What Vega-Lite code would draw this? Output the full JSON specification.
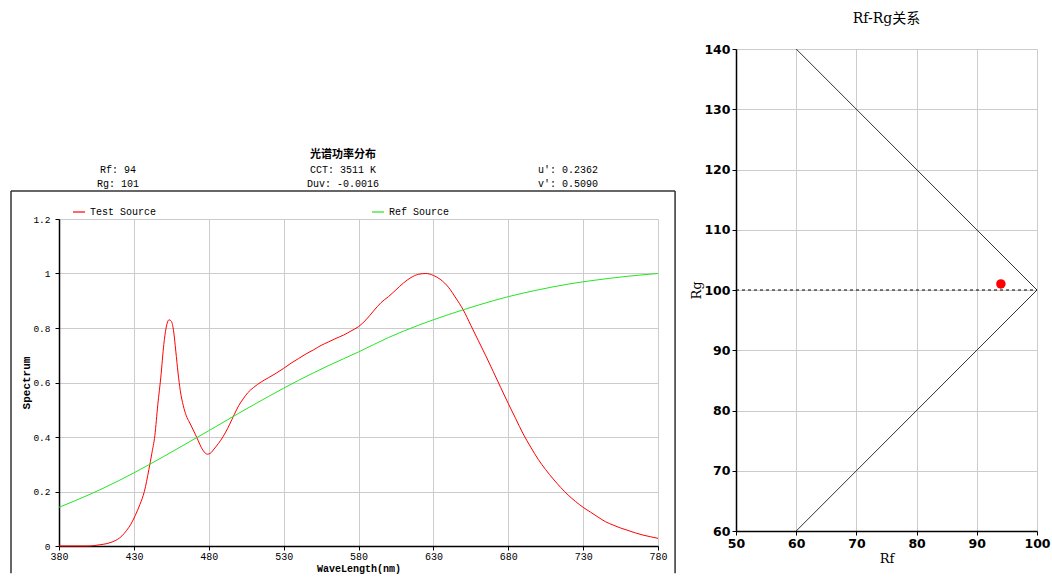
{
  "$schema": "https://vega.github.io/schema/vega-lite/v6.json",
  "padding": {"left": 10, "top": 12, "right": 0, "bottom": 0},
  "background": "#ffffff",
  "config": {
    "view": {"stroke": null},
    "axis": {
      "domainColor": "#000000",
      "domainWidth": 1.5,
      "tickColor": "#000000",
      "tickSize": 4,
      "gridColor": "#cccccc",
      "gridWidth": 1,
      "labelColor": "#000000",
      "titleColor": "#000000",
      "labelFlush": false
    }
  },
  "datasets": {
    "spectrum": [
      {"wl": 380, "v": 0, "src": "Test Source"},
      {"wl": 390, "v": 0, "src": "Test Source"},
      {"wl": 400, "v": 0, "src": "Test Source"},
      {"wl": 404, "v": 0.002, "src": "Test Source"},
      {"wl": 408, "v": 0.005, "src": "Test Source"},
      {"wl": 412, "v": 0.009, "src": "Test Source"},
      {"wl": 416, "v": 0.016, "src": "Test Source"},
      {"wl": 419, "v": 0.024, "src": "Test Source"},
      {"wl": 422, "v": 0.037, "src": "Test Source"},
      {"wl": 425, "v": 0.056, "src": "Test Source"},
      {"wl": 428, "v": 0.08, "src": "Test Source"},
      {"wl": 431, "v": 0.113, "src": "Test Source"},
      {"wl": 434, "v": 0.152, "src": "Test Source"},
      {"wl": 437, "v": 0.2, "src": "Test Source"},
      {"wl": 440, "v": 0.28, "src": "Test Source"},
      {"wl": 442, "v": 0.34, "src": "Test Source"},
      {"wl": 444, "v": 0.405, "src": "Test Source"},
      {"wl": 446, "v": 0.52, "src": "Test Source"},
      {"wl": 448, "v": 0.62, "src": "Test Source"},
      {"wl": 450, "v": 0.74, "src": "Test Source"},
      {"wl": 451.5, "v": 0.8, "src": "Test Source"},
      {"wl": 453.5, "v": 0.83, "src": "Test Source"},
      {"wl": 455, "v": 0.825, "src": "Test Source"},
      {"wl": 456.5, "v": 0.79, "src": "Test Source"},
      {"wl": 458, "v": 0.715, "src": "Test Source"},
      {"wl": 459.5, "v": 0.635, "src": "Test Source"},
      {"wl": 461, "v": 0.57, "src": "Test Source"},
      {"wl": 463, "v": 0.515, "src": "Test Source"},
      {"wl": 465, "v": 0.478, "src": "Test Source"},
      {"wl": 467, "v": 0.455, "src": "Test Source"},
      {"wl": 469, "v": 0.433, "src": "Test Source"},
      {"wl": 471, "v": 0.41, "src": "Test Source"},
      {"wl": 473, "v": 0.386, "src": "Test Source"},
      {"wl": 475, "v": 0.362, "src": "Test Source"},
      {"wl": 477, "v": 0.345, "src": "Test Source"},
      {"wl": 479, "v": 0.337, "src": "Test Source"},
      {"wl": 481, "v": 0.34, "src": "Test Source"},
      {"wl": 483, "v": 0.352, "src": "Test Source"},
      {"wl": 485, "v": 0.366, "src": "Test Source"},
      {"wl": 488, "v": 0.388, "src": "Test Source"},
      {"wl": 491, "v": 0.415, "src": "Test Source"},
      {"wl": 494, "v": 0.447, "src": "Test Source"},
      {"wl": 497, "v": 0.482, "src": "Test Source"},
      {"wl": 500, "v": 0.515, "src": "Test Source"},
      {"wl": 503, "v": 0.54, "src": "Test Source"},
      {"wl": 506, "v": 0.562, "src": "Test Source"},
      {"wl": 510, "v": 0.582, "src": "Test Source"},
      {"wl": 515, "v": 0.602, "src": "Test Source"},
      {"wl": 520, "v": 0.618, "src": "Test Source"},
      {"wl": 525, "v": 0.634, "src": "Test Source"},
      {"wl": 530, "v": 0.652, "src": "Test Source"},
      {"wl": 535, "v": 0.671, "src": "Test Source"},
      {"wl": 540, "v": 0.688, "src": "Test Source"},
      {"wl": 545, "v": 0.705, "src": "Test Source"},
      {"wl": 550, "v": 0.72, "src": "Test Source"},
      {"wl": 555, "v": 0.736, "src": "Test Source"},
      {"wl": 560, "v": 0.749, "src": "Test Source"},
      {"wl": 565, "v": 0.762, "src": "Test Source"},
      {"wl": 570, "v": 0.774, "src": "Test Source"},
      {"wl": 575, "v": 0.789, "src": "Test Source"},
      {"wl": 580, "v": 0.805, "src": "Test Source"},
      {"wl": 585, "v": 0.83, "src": "Test Source"},
      {"wl": 590, "v": 0.862, "src": "Test Source"},
      {"wl": 595, "v": 0.893, "src": "Test Source"},
      {"wl": 600, "v": 0.915, "src": "Test Source"},
      {"wl": 605, "v": 0.94, "src": "Test Source"},
      {"wl": 610, "v": 0.965, "src": "Test Source"},
      {"wl": 615, "v": 0.985, "src": "Test Source"},
      {"wl": 620, "v": 0.997, "src": "Test Source"},
      {"wl": 625, "v": 1.0, "src": "Test Source"},
      {"wl": 630, "v": 0.993, "src": "Test Source"},
      {"wl": 635, "v": 0.977, "src": "Test Source"},
      {"wl": 640, "v": 0.95, "src": "Test Source"},
      {"wl": 645, "v": 0.91, "src": "Test Source"},
      {"wl": 650, "v": 0.866, "src": "Test Source"},
      {"wl": 655, "v": 0.81, "src": "Test Source"},
      {"wl": 660, "v": 0.754, "src": "Test Source"},
      {"wl": 665, "v": 0.698, "src": "Test Source"},
      {"wl": 670, "v": 0.64, "src": "Test Source"},
      {"wl": 675, "v": 0.581, "src": "Test Source"},
      {"wl": 680, "v": 0.523, "src": "Test Source"},
      {"wl": 685, "v": 0.467, "src": "Test Source"},
      {"wl": 690, "v": 0.411, "src": "Test Source"},
      {"wl": 695, "v": 0.363, "src": "Test Source"},
      {"wl": 700, "v": 0.318, "src": "Test Source"},
      {"wl": 705, "v": 0.28, "src": "Test Source"},
      {"wl": 710, "v": 0.246, "src": "Test Source"},
      {"wl": 715, "v": 0.215, "src": "Test Source"},
      {"wl": 720, "v": 0.187, "src": "Test Source"},
      {"wl": 725, "v": 0.163, "src": "Test Source"},
      {"wl": 730, "v": 0.142, "src": "Test Source"},
      {"wl": 735, "v": 0.124, "src": "Test Source"},
      {"wl": 740, "v": 0.106, "src": "Test Source"},
      {"wl": 745, "v": 0.089, "src": "Test Source"},
      {"wl": 750, "v": 0.077, "src": "Test Source"},
      {"wl": 755, "v": 0.066, "src": "Test Source"},
      {"wl": 760, "v": 0.057, "src": "Test Source"},
      {"wl": 765, "v": 0.048, "src": "Test Source"},
      {"wl": 770, "v": 0.04, "src": "Test Source"},
      {"wl": 775, "v": 0.034, "src": "Test Source"},
      {"wl": 780, "v": 0.028, "src": "Test Source"},
      {"wl": 380, "v": 0.142, "src": "Ref Source"},
      {"wl": 400, "v": 0.188, "src": "Ref Source"},
      {"wl": 420, "v": 0.24, "src": "Ref Source"},
      {"wl": 440, "v": 0.298, "src": "Ref Source"},
      {"wl": 460, "v": 0.36, "src": "Ref Source"},
      {"wl": 480, "v": 0.423, "src": "Ref Source"},
      {"wl": 500, "v": 0.487, "src": "Ref Source"},
      {"wl": 520, "v": 0.549, "src": "Ref Source"},
      {"wl": 540, "v": 0.608, "src": "Ref Source"},
      {"wl": 560, "v": 0.662, "src": "Ref Source"},
      {"wl": 580, "v": 0.712, "src": "Ref Source"},
      {"wl": 600, "v": 0.765, "src": "Ref Source"},
      {"wl": 620, "v": 0.81, "src": "Ref Source"},
      {"wl": 640, "v": 0.849, "src": "Ref Source"},
      {"wl": 660, "v": 0.884, "src": "Ref Source"},
      {"wl": 680, "v": 0.915, "src": "Ref Source"},
      {"wl": 700, "v": 0.94, "src": "Ref Source"},
      {"wl": 720, "v": 0.961, "src": "Ref Source"},
      {"wl": 740, "v": 0.977, "src": "Ref Source"},
      {"wl": 760, "v": 0.99, "src": "Ref Source"},
      {"wl": 780, "v": 1.0, "src": "Ref Source"}
    ],
    "info": [
      {"col": 2, "row": 0, "text": "光谱功率分布", "kind": "title"},
      {"col": 1, "row": 1, "text": "Rf: 94", "kind": "value"},
      {"col": 1, "row": 2, "text": "Rg: 101", "kind": "value"},
      {"col": 2, "row": 1, "text": "CCT: 3511 K", "kind": "value"},
      {"col": 2, "row": 2, "text": "Duv: -0.0016", "kind": "value"},
      {"col": 3, "row": 1, "text": "u': 0.2362", "kind": "value"},
      {"col": 3, "row": 2, "text": "v': 0.5090", "kind": "value"}
    ],
    "boundary": [
      {"rf": 60, "rg": 140, "order": 1},
      {"rf": 100, "rg": 100, "order": 2},
      {"rf": 60, "rg": 60, "order": 3}
    ],
    "sample": [
      {"rf": 94, "rg": 101}
    ]
  },
  "spacing": 14,
  "hconcat": [
    {
      "spacing": 0,
      "resolve": {"scale": {"color": "independent"}, "legend": {"color": "independent"}},
      "vconcat": [
        {
          "width": 616,
          "height": 138,
          "data": {"name": "info"},
          "encoding": {
            "x": {"field": "col", "type": "quantitative", "axis": null,
                  "scale": {"domain": [0.738, 3.475], "nice": false, "zero": false}},
            "y": {"field": "row", "type": "quantitative", "axis": null,
                  "scale": {"domain": [-7.643, 2.214], "nice": false, "zero": false, "reverse": true}},
            "text": {"field": "text"}
          },
          "layer": [
            {
              "transform": [{"filter": "datum.kind === 'title'"}],
              "mark": {"type": "text", "font": "Noto Sans CJK SC", "fontSize": 11, "fontWeight": "bold", "color": "#000000", "dy": -1}
            },
            {
              "transform": [{"filter": "datum.kind === 'value'"}],
              "mark": {"type": "text", "font": "Liberation Mono", "fontSize": 10, "color": "#000000"}
            }
          ]
        },
        {
          "width": 599,
          "height": 327,
          "layer": [
            {
              "data": {"values": [{}]},
              "mark": {"type": "rule", "color": "#333333", "strokeWidth": 1.5},
              "encoding": {
                "x": {"datum": 347.95, "type": "quantitative"},
                "y": {"datum": 1.3028, "type": "quantitative"},
                "y2": {"datum": -0.1}
              }
            },
            {
              "data": {"values": [{}]},
              "mark": {"type": "rule", "color": "#333333", "strokeWidth": 1.5},
              "encoding": {
                "x": {"datum": 347.95, "type": "quantitative"},
                "x2": {"datum": 791.4},
                "y": {"datum": 1.3028, "type": "quantitative"}
              }
            },
            {
              "data": {"values": [{}]},
              "mark": {"type": "rule", "color": "#333333", "strokeWidth": 1.5},
              "encoding": {
                "x": {"datum": 791.4, "type": "quantitative"},
                "y": {"datum": 1.3028, "type": "quantitative"},
                "y2": {"datum": -0.1}
              }
            },
            {
              "data": {"name": "spectrum"},
              "mark": {"type": "line", "strokeWidth": 1, "interpolate": "monotone"},
              "encoding": {
                "x": {"field": "wl", "type": "quantitative"},
                "y": {"field": "v", "type": "quantitative"},
                "color": {
                  "field": "src", "type": "nominal",
                  "scale": {"domain": ["Test Source", "Ref Source"], "range": ["#ff0000", "#22e622"]},
                  "legend": {
                    "title": null,
                    "orient": "none",
                    "legendX": 13,
                    "legendY": -14,
                    "direction": "horizontal",
                    "padding": 0,
                    "symbolType": "stroke",
                    "symbolSize": 144,
                    "symbolStrokeWidth": 1.2,
                    "labelFont": "Liberation Mono",
                    "labelFontSize": 10,
                    "labelColor": "#000000",
                    "labelOffset": 4,
                    "columnPadding": 212
                  }
                }
              }
            }
          ],
          "encoding": {
            "x": {
              "type": "quantitative",
              "scale": {"domain": [380, 780], "nice": false, "zero": false},
              "axis": {
                "title": "WaveLength(nm)",
                "values": [380, 430, 480, 530, 580, 630, 680, 730, 780],
                "grid": true,
                "labelFont": "Liberation Mono",
                "labelFontSize": 10,
                "labelPadding": 1,
                "titleFont": "Liberation Mono",
                "titleFontSize": 10,
                "titleFontWeight": "bold",
                "titlePadding": 2
              }
            },
            "y": {
              "type": "quantitative",
              "scale": {"domain": [0, 1.2], "nice": false, "zero": false},
              "axis": {
                "title": "Spectrum",
                "values": [0, 0.2, 0.4, 0.6, 0.8, 1, 1.2],
                "format": "~g",
                "grid": true,
                "labelFont": "Liberation Mono",
                "labelFontSize": 9.5,
                "labelPadding": 5,
                "titleFont": "Liberation Mono",
                "titleFontSize": 11,
                "titleFontWeight": "bold",
                "titlePadding": 1
              }
            }
          }
        }
      ]
    },
    {
      "width": 301,
      "height": 482,
      "title": {
        "text": "Rf-Rg关系",
        "font": "DejaVu Serif, Noto Sans CJK SC",
        "fontSize": 14,
        "fontWeight": "normal",
        "color": "#000000",
        "anchor": "middle",
        "offset": 17
      },
      "layer": [
        {
          "data": {"name": "boundary"},
          "mark": {"type": "line", "color": "#333333", "strokeWidth": 1},
          "encoding": {
            "x": {"field": "rf", "type": "quantitative"},
            "y": {"field": "rg", "type": "quantitative"},
            "order": {"field": "order"}
          }
        },
        {
          "data": {"values": [{}]},
          "mark": {"type": "rule", "color": "#000000", "strokeWidth": 1, "strokeDash": [3, 3]},
          "encoding": {
            "x": {"datum": 50, "type": "quantitative"},
            "x2": {"datum": 100},
            "y": {"datum": 100, "type": "quantitative"}
          }
        },
        {
          "data": {"name": "sample"},
          "mark": {"type": "point", "filled": true, "color": "#ff0000", "size": 90, "opacity": 1},
          "encoding": {
            "x": {"field": "rf", "type": "quantitative"},
            "y": {"field": "rg", "type": "quantitative"}
          }
        }
      ],
      "encoding": {
        "x": {
          "type": "quantitative",
          "scale": {"domain": [50, 100], "nice": false, "zero": false},
          "axis": {
            "title": "Rf",
            "values": [50, 60, 70, 80, 90, 100],
            "grid": true,
            "labelFont": "DejaVu Sans",
            "labelFontSize": 12.5,
            "labelFontWeight": "bold",
            "labelPadding": 2,
            "titleFont": "DejaVu Serif",
            "titleFontSize": 13,
            "titleFontWeight": "normal",
            "titlePadding": 3
          }
        },
        "y": {
          "type": "quantitative",
          "scale": {"domain": [60, 140], "nice": false, "zero": false},
          "axis": {
            "title": "Rg",
            "values": [60, 70, 80, 90, 100, 110, 120, 130, 140],
            "grid": true,
            "labelFont": "DejaVu Sans",
            "labelFontSize": 12.5,
            "labelFontWeight": "bold",
            "labelPadding": 2,
            "titleFont": "DejaVu Serif",
            "titleFontSize": 13,
            "titleFontWeight": "normal",
            "titlePadding": 0
          }
        }
      }
    }
  ]
}
